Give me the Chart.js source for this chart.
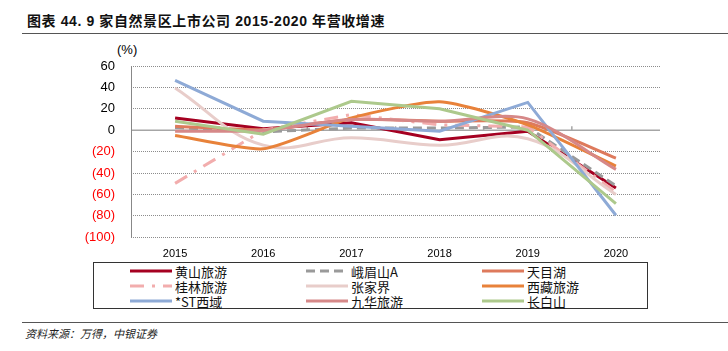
<!DOCTYPE html>
<html>
<head>
<meta charset="utf-8">
<script src="https://cdn.jsdelivr.net/npm/chart.js@4/dist/chart.umd.min.js"></script>
<style>
  body { margin: 0; width: 728px; height: 351px; background: #fff; position: relative; overflow: hidden; font-family: "Liberation Sans", Arial, sans-serif; }
  #title { position: absolute; left: 27px; top: 10px; font: bold 14px "Liberation Sans", "Noto Sans CJK SC", sans-serif; color: #111; letter-spacing: 0.6px; }
  .rule { position: absolute; left: 22px; right: 0; height: 1px; background: #555; }
  #unit { position: absolute; left: 117px; top: 42px; font: 13px "Liberation Sans", Arial, sans-serif; color: #000; }
  #wrap { position: absolute; left: 0; top: 41px; width: 728px; height: 220px; }
  #legend { position: absolute; left: 93px; top: 262px; width: 555px; height: 47px; border: 1.5px solid #333; box-sizing: border-box; }
  .item { position: absolute; font: 13px "Noto Sans CJK SC", sans-serif; color: #111; display: flex; align-items: center; height: 16px; }
  .item svg { margin-right: 3px; }
  #source { position: absolute; left: 25px; top: 325px; font: italic 11px "Noto Sans CJK SC", sans-serif; color: #222; }
</style>
</head>
<body>
<div id="title">图表 44. 9 家自然景区上市公司 2015-2020 年营收增速</div>
<div class="rule" style="top:33px"></div>
<div id="unit">(%)</div>
<div id="wrap"><canvas id="growthChart"></canvas></div>
<div id="legend"></div>
<div class="rule" style="top:322px"></div>
<div id="source">资料来源：万得，中银证券</div>
<script>
const years = ['2015', '2016', '2017', '2018', '2019', '2020'];
const names = ['黄山旅游', '峨眉山A', '天目湖', '桂林旅游', '张家界', '西藏旅游', '*ST西域', '九华旅游', '长白山'];

const huangshan = [11.5, 1.3, 7, -9, -1, -54];
const emeishan = [2.5, -1.5, 2, 2, 3, -52];
const tianmuhu = [3.7, 0.6, 10, 8.4, 7, -26];
const guilin = [-49.7, 0, 14.6, 5, 3, -58];
const zhangjiajie = [39.5, -14, -7, -14, -8, -60];
const xizang = [-5, -17.4, 11.5, 26.5, 5, -33.5];
const stXiyu = [46.6, 8.4, 3.7, -1, 26, -79.5];
const jiuhua = [-1, 0, 10, 8.4, 10.6, -36.6];
const changbaishan = [8.4, -3.7, 27, 20, 0, -68.6];

const yTicks = [60, 40, 20, 0, -20, -40, -60, -80, -100];

const series = [huangshan, emeishan, tianmuhu, guilin, zhangjiajie, xizang, stXiyu, jiuhua, changbaishan];
const colors = ['#a50021', '#9a9a9a', '#de7a5c', '#f2adad', '#e8cdca', '#e8823a', '#8eaad6', '#d68888', '#adc98c'];
const dashes = [[], [9, 5], [], [14, 8, 3, 8], [], [], [], [], []];
const tensions = [0, 0, 0.2, 0, 0.4, 0.2, 0, 0.3, 0];

const datasets = series.map((data, i) => ({
    label: names[i],
    data: data,
    borderColor: colors[i],
    backgroundColor: colors[i],
    borderWidth: 3,
    borderDash: dashes[i],
    tension: tensions[i],
    pointRadius: 0,
    fill: false,
    order: series.length - i
}));

const axisLines = {
    id: 'axisLines',
    beforeDatasetsDraw(chart) {
        const { ctx, chartArea, scales } = chart;
        const y0 = scales.y.getPixelForValue(0);
        ctx.save();
        ctx.strokeStyle = '#a6a6a6';
        ctx.lineWidth = 1.5;
        ctx.beginPath();
        ctx.moveTo(chartArea.left, y0);
        ctx.lineTo(chartArea.right, y0);
        // small ticks between categories on the zero line
        const step = (chartArea.right - chartArea.left) / years.length;
        for (let i = 1; i < years.length; i++) {
            const x = chartArea.left + step * i;
            ctx.moveTo(x, y0);
            ctx.lineTo(x, y0 - 4);
        }
        ctx.stroke();
        // solid y axis line
        ctx.strokeStyle = '#888';
        ctx.lineWidth = 1;
        ctx.beginPath();
        ctx.moveTo(chartArea.left + 0.5, chartArea.top);
        ctx.lineTo(chartArea.left + 0.5, chartArea.bottom);
        ctx.stroke();
        ctx.restore();
    }
};

new Chart(document.getElementById('growthChart'), {
    type: 'line',
    data: { labels: years, datasets },
    plugins: [axisLines],
    options: {
        responsive: true,
        maintainAspectRatio: false,
        animation: false,
        layout: { padding: { top: 25, right: 68, left: 0, bottom: 0 } },
        plugins: { legend: { display: false }, tooltip: { enabled: false } },
        scales: {
            x: {
                offset: true,
                grid: { display: false, offset: true },
                border: { display: false },
                ticks: { color: '#000', font: { size: 11, family: 'Liberation Sans' }, padding: 2 },
                afterFit: s => { s.height = 22; }
            },
            y: {
                min: -100,
                max: 60,
                afterBuildTicks: s => { s.ticks = yTicks.map(v => ({ value: v })); },
                afterFit: s => { s.width = 131; },
                grid: { color: '#8c8c8c', lineWidth: 1, drawTicks: false },
                border: { display: false, dash: [1, 1] },
                ticks: {
                    padding: 16,
                    font: { size: 13, family: 'Liberation Sans' },
                    color: c => c.tick.value < 0 ? '#ff0000' : '#000',
                    callback: v => v < 0 ? '(' + Math.abs(v) + ')' : String(v)
                }
            }
        }
    }
});

// legend built from the same arrays, three columns
const legend = document.getElementById('legend');
const colX = [36, 212, 388];
const rowY = [0, 15, 30];
names.forEach((name, i) => {
    const el = document.createElement('div');
    el.className = 'item';
    el.style.left = colX[i % 3] + 'px';
    el.style.top = rowY[Math.floor(i / 3)] + 'px';
    const dash = dashes[i].length ? `stroke-dasharray="${dashes[i].join(' ')}"` : '';
    el.innerHTML = `<svg width="42" height="6"><line x1="0" y1="3" x2="42" y2="3" stroke="${colors[i]}" stroke-width="3" ${dash}/></svg>${name}`;
    legend.appendChild(el);
});
</script>
</body>
</html>
